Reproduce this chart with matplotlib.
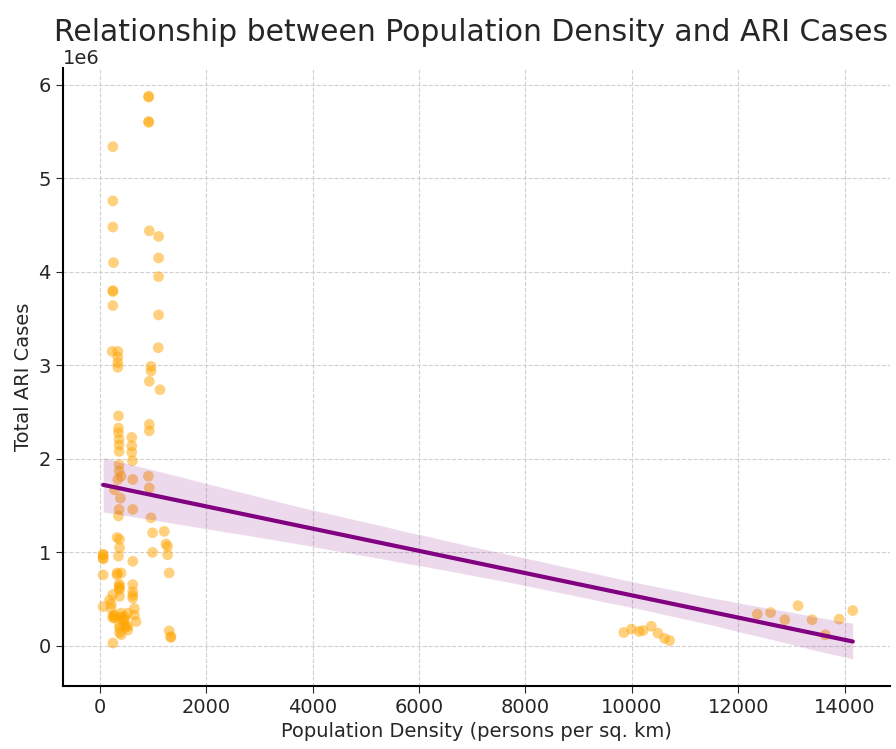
import matplotlib
matplotlib.use("Agg")
import matplotlib.pyplot as plt
import numpy as np
import seaborn as sns

# population density (persons per sq. km) and total ARI cases
density = [
    # upper part of the low-density cluster
    916, 916, 916, 916, 243, 243, 243, 928, 1103, 1103, 255, 1103,
    243, 243, 243, 1103, 230, 336, 336, 336, 336, 1096, 960, 960, 928, 1128,
    # 2.5e6 .. 1.3e6
    348, 348, 348, 360, 360, 360, 360, 360, 360, 348,
    398, 336, 274, 385,
    598, 598, 598, 610, 617, 617,
    928, 928, 910, 928, 960,
    # below 1.3e6
    990, 1209, 1241, 1271, 990, 1271,
    323, 368, 368, 60, 60, 348, 617, 1302, 60, 323, 398, 368, 617, 617, 617,
    243, 181, 368, 60, 211, 274, 243, 398, 461, 523, 648, 368, 461, 523, 368,
    243, 1302, 1333, 679, 648, 368,
    # overlapping points in the dense bottom of the cluster
    60, 60, 323, 360, 360, 243, 274, 398, 430, 461, 492, 523, 368, 400, 1333, 617, 211,
    # mid-density group
    9850, 9994, 10137, 10212, 10368, 10492, 10617, 10710,
    # high-density group
    12361, 12610, 12878, 13127, 13389, 13638, 13900, 14155,
]
ari_cases = [
    5.88e6, 5.87e6, 5.61e6, 5.60e6, 5.34e6, 4.76e6, 4.48e6, 4.44e6, 4.38e6, 4.15e6, 4.10e6, 3.95e6,
    3.80e6, 3.79e6, 3.64e6, 3.54e6, 3.15e6, 3.15e6, 3.09e6, 3.03e6, 2.98e6, 3.19e6, 2.99e6, 2.94e6, 2.83e6, 2.74e6,
    2.46e6, 2.33e6, 2.28e6, 2.21e6, 2.15e6, 2.08e6, 1.94e6, 1.87e6, 1.46e6, 1.39e6,
    1.815e6, 1.78e6, 1.67e6, 1.58e6,
    2.23e6, 2.14e6, 2.07e6, 1.98e6, 1.78e6, 1.46e6,
    2.37e6, 2.30e6, 1.815e6, 1.69e6, 1.37e6,
    1.21e6, 1.225e6, 1.09e6, 1.065e6, 1.00e6, 0.975e6,
    1.16e6, 1.14e6, 1.05e6, 0.975e6, 0.94e6, 0.96e6, 0.905e6, 0.78e6, 0.76e6, 0.76e6, 0.78e6, 0.64e6, 0.655e6, 0.58e6, 0.51e6,
    0.55e6, 0.49e6, 0.53e6, 0.42e6, 0.40e6, 0.33e6, 0.30e6, 0.35e6, 0.31e6, 0.35e6, 0.33e6, 0.225e6, 0.225e6, 0.17e6, 0.14e6,
    0.03e6, 0.16e6, 0.10e6, 0.26e6, 0.40e6, 0.60e6,
    0.98e6, 0.93e6, 0.78e6, 0.66e6, 0.62e6, 0.32e6, 0.30e6, 0.31e6, 0.28e6, 0.28e6, 0.20e6, 0.21e6, 0.19e6, 0.12e6, 0.09e6, 0.54e6, 0.45e6,
    0.143e6, 0.18e6, 0.155e6, 0.165e6, 0.21e6, 0.136e6, 0.08e6, 0.057e6,
    0.34e6, 0.357e6, 0.28e6, 0.43e6, 0.28e6, 0.118e6, 0.286e6, 0.378e6,
]

sns.set_style("whitegrid", {"grid.linestyle": "--", "grid.color": "#d0d0d0"})
plt.rcParams['font.family'] = ['DejaVu Sans']

fig = plt.figure(figsize=(8.96, 7.49), dpi=100)
ax = fig.add_axes([0.070, 0.084, 0.923, 0.825])

sns.regplot(x=np.array(density), y=np.array(ari_cases), ax=ax, seed=0,
            scatter_kws={"color": "orange", "alpha": 0.5, "s": 60, "edgecolor": "none"},
            line_kws={"color": "purple", "lw": 3})
ax.collections[1].set_facecolor("purple")
ax.collections[1].set_alpha(0.15)

ax.set_xlim(-700, 14850)
ax.set_ylim(-0.43e6, 6.18e6)
ax.set_title("Relationship between Population Density and ARI Cases", fontsize=21.5, loc="left", x=-0.01)
ax.set_xlabel("Population Density (persons per sq. km)", fontsize=14)
ax.set_ylabel("Total ARI Cases", fontsize=14)
ax.tick_params(labelsize=14, length=5, left=True, bottom=True)
ax.yaxis.get_offset_text().set_fontsize(14)
for s in ["top", "right"]:
    ax.spines[s].set_visible(False)
for s in ["left", "bottom"]:
    ax.spines[s].set_color("black")
    ax.spines[s].set_linewidth(1.5)

fig.savefig("out.png", dpi=100)
